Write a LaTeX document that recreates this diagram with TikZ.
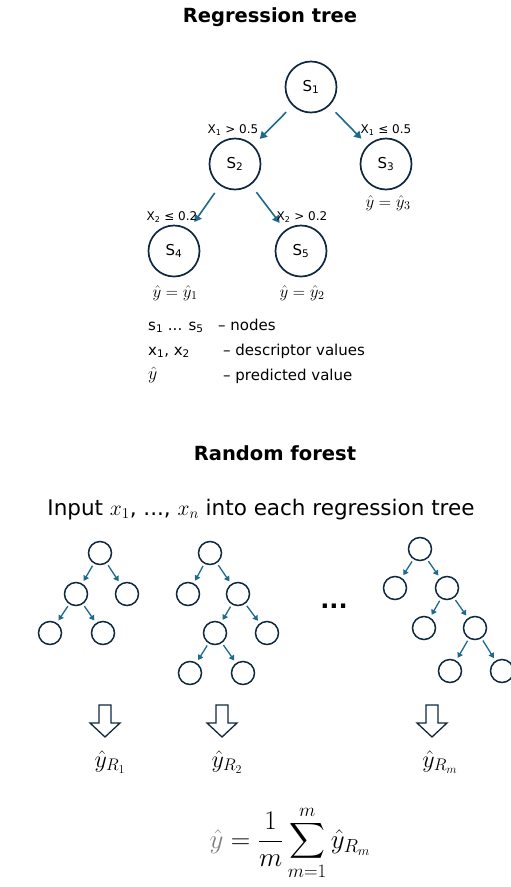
\RequirePackage{fix-cm}
\documentclass[tikz,border=0pt]{standalone}
\usepackage{amsmath}
\usepackage{fontspec}
\setmainfont{DejaVu Sans}
\usetikzlibrary{arrows.meta}
\definecolor{navy}{HTML}{0E2841}
\definecolor{arrowblue}{HTML}{1E6A8D}
\newcommand{\yh}{\hat{y}}

\begin{document}
\begin{tikzpicture}[x=1pt,y=-1pt,
  big/.style={circle,draw=navy,line width=1.7pt,minimum size=51pt,inner sep=0pt,font=\fontsize{15}{15}\selectfont},
  small/.style={circle,draw=navy,line width=1.5pt,minimum size=23pt,inner sep=0pt},
  link/.style={draw=arrowblue,line width=1.6pt,-{Triangle[length=7pt,width=8pt]},shorten <=9pt,shorten >=9pt},
  slink/.style={draw=arrowblue,line width=1.3pt,-{Triangle[length=5pt,width=6pt]},shorten <=2.5pt,shorten >=3pt},
  lbl/.style={font=\fontsize{12}{12}\selectfont},
  val/.style={font=\fontsize{17}{17}\selectfont},
  legend/.style={anchor=base west,font=\fontsize{15}{15}\selectfont,inner sep=0pt},
  title/.style={anchor=base,font=\bfseries\fontsize{19.5}{19.5}\selectfont},
  hollow/.pic={\draw[navy,line width=1.3pt] (-6,0) -- (6,0) -- (6,18) -- (15,18) -- (0,32) -- (-15,18) -- (-6,18) -- cycle;}]
  \useasboundingbox (0,0) rectangle (511,887);

  \node[title] (t1) at (270,22) {Regression tree};
  \node[big] (s1) at (311,87) {S\textsubscript{1}};
  \node[big] (s2) at (235,164) {S\textsubscript{2}};
  \node[big] (s3) at (386,164) {S\textsubscript{3}};
  \node[big] (s4) at (174,251) {S\textsubscript{4}};
  \node[big] (s5) at (301,251) {S\textsubscript{5}};

  \draw[link] (s1) -- (s2);
  \draw[link] (s1) -- (s3);
  \draw[link] (s2) -- (s4);
  \draw[link] (s2) -- (s5);

  \node[lbl] (c12) at (233,130) {X\textsubscript{1} > 0.5};
  \node[lbl] (c13) at (386,130) {X\textsubscript{1} ≤ 0.5};
  \node[lbl] (c24) at (172,217) {X\textsubscript{2} ≤ 0.2};
  \node[lbl] (c25) at (302,217) {X\textsubscript{2} > 0.2};
  \node[val] (v3) at (388,203) {$\yh=\yh_3$};
  \node[val] (v1) at (175,293) {$\yh=\yh_1$};
  \node[val] (v2) at (302,293) {$\yh=\yh_2$};

  \node[legend] (l1) at (148,330) {s\textsubscript{1} ... s\textsubscript{5}};
  \node[legend] (l1d) at (218,330) {– nodes};
  \node[legend] (l2) at (148,355) {x\textsubscript{1}, x\textsubscript{2}};
  \node[legend] (l2d) at (223,355) {– descriptor values};
  \node[legend,font=\fontsize{18}{18}\selectfont] (l3) at (148,379) {$\yh$};
  \node[legend] (l3d) at (223,380) {– predicted value};

  \node[title] (t2) at (275,460) {Random forest};
  \node[anchor=base,font=\fontsize{21.5}{21.5}\selectfont] (input) at (261,515) {Input $x_1$, ..., $x_n$ into each regression tree};

  \node[small] (a1) at (100,553) {};
  \node[small] (a2) at (76,594) {};
  \node[small] (a3) at (127,594) {};
  \node[small] (a4) at (50,633) {};
  \node[small] (a5) at (103,633) {};
  \draw[slink] (a1) -- (a2);
  \draw[slink] (a1) -- (a3);
  \draw[slink] (a2) -- (a4);
  \draw[slink] (a2) -- (a5);

  \node[small] (b1) at (210,553) {};
  \node[small] (b2) at (188,594) {};
  \node[small] (b3) at (238,594) {};
  \node[small] (b4) at (215,633) {};
  \node[small] (b5) at (267,633) {};
  \node[small] (b6) at (190,673) {};
  \node[small] (b7) at (243,673) {};
  \draw[slink] (b1) -- (b2);
  \draw[slink] (b1) -- (b3);
  \draw[slink] (b3) -- (b4);
  \draw[slink] (b3) -- (b5);
  \draw[slink] (b4) -- (b6);
  \draw[slink] (b4) -- (b7);

  \node[font=\bfseries\fontsize{24}{24}\selectfont] (dots) at (334,606) {...};

  \node[small] (c1) at (420,549) {};
  \node[small] (c2) at (395,588) {};
  \node[small] (c3) at (447,588) {};
  \node[small] (c4) at (424,628) {};
  \node[small] (c5) at (475,628) {};
  \node[small] (c6) at (450,671) {};
  \node[small] (c7) at (502,671) {};
  \draw[slink] (c1) -- (c2);
  \draw[slink] (c1) -- (c3);
  \draw[slink] (c3) -- (c4);
  \draw[slink] (c3) -- (c5);
  \draw[slink] (c5) -- (c6);
  \draw[slink] (c5) -- (c7);

  \pic at (105,705) {hollow};
  \pic at (222,705) {hollow};
  \pic at (432,705) {hollow};

  \node[anchor=base,font=\fontsize{24}{24}\selectfont] (r1) at (110,767) {$\yh_{R_1}$};
  \node[anchor=base,font=\fontsize{24}{24}\selectfont] (r2) at (227,767) {$\yh_{R_2}$};
  \node[anchor=base,font=\fontsize{24}{24}\selectfont] (rm) at (440,767) {$\yh_{R_m}$};

  \node[font=\fontsize{27}{27}\selectfont] (avg) at (290,843) {$\displaystyle \textcolor{gray}{\yh}=\frac{1}{m}\sum_{m=1}^{m}\yh_{R_m}$};
\end{tikzpicture}
\end{document}
